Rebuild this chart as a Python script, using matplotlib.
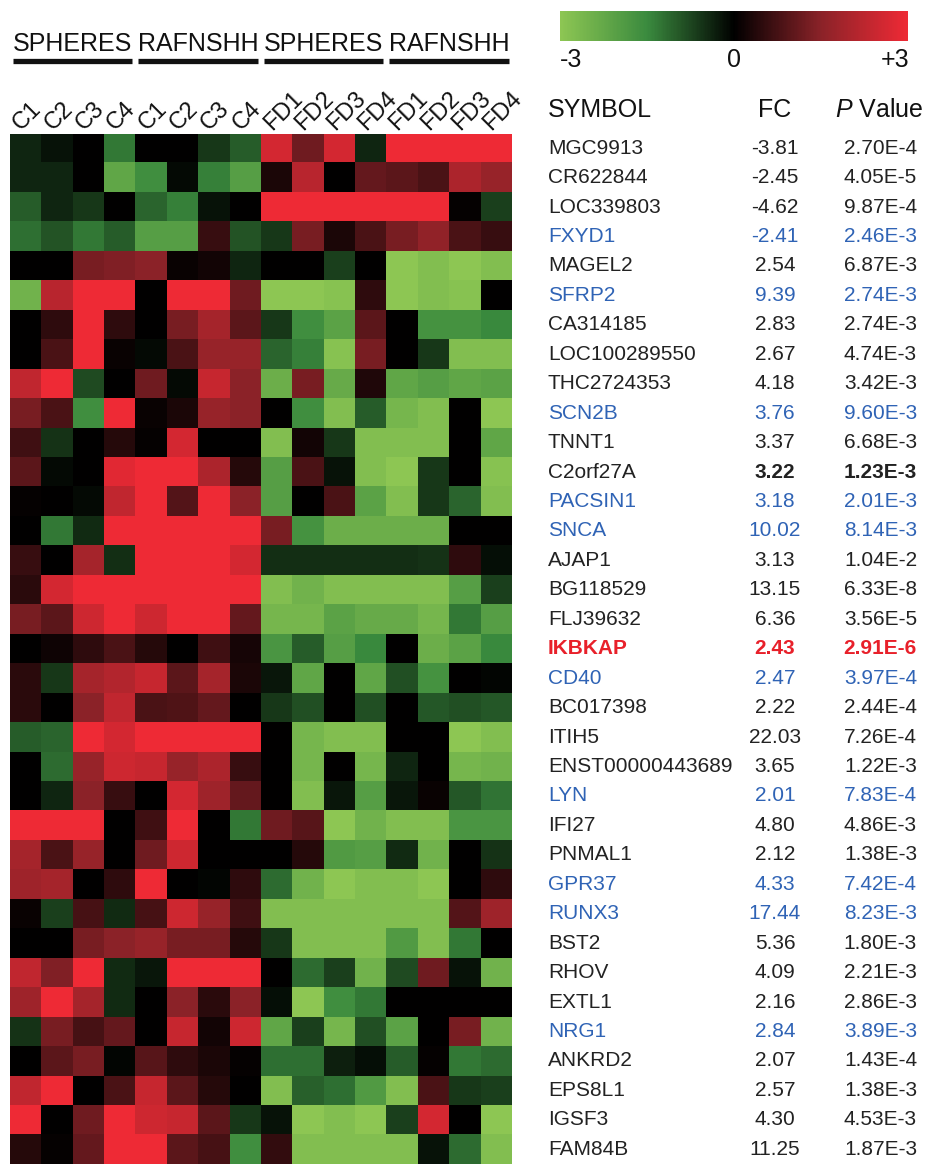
import numpy as np
import matplotlib
matplotlib.use("Agg")
import matplotlib.pyplot as plt
from matplotlib.colors import LinearSegmentedColormap

plt.rcParams["font.family"] = ["Liberation Sans", "DejaVu Sans"]
plt.rcParams["mathtext.fontset"] = "custom"
plt.rcParams["mathtext.rm"] = "Liberation Sans"
plt.rcParams["mathtext.it"] = "Liberation Sans:italic"

# sample groups and per-column labels
groups = ["SPHERES", "RAFNSHH", "SPHERES", "RAFNSHH"]
columns = ["C1", "C2", "C3", "C4", "C1", "C2", "C3", "C4",
           "FD1", "FD2", "FD3", "FD4", "FD1", "FD2", "FD3", "FD4"]

genes = ["MGC9913", "CR622844", "LOC339803", "FXYD1", "MAGEL2", "SFRP2",
         "CA314185", "LOC100289550", "THC2724353", "SCN2B", "TNNT1",
         "C2orf27A", "PACSIN1", "SNCA", "AJAP1", "BG118529", "FLJ39632",
         "IKBKAP", "CD40", "BC017398", "ITIH5", "ENST00000443689", "LYN",
         "IFI27", "PNMAL1", "GPR37", "RUNX3", "BST2", "RHOV", "EXTL1",
         "NRG1", "ANKRD2", "EPS8L1", "IGSF3", "FAM84B"]

fold_change = ["-3.81", "-2.45", "-4.62", "-2.41", "2.54", "9.39", "2.83",
               "2.67", "4.18", "3.76", "3.37", "3.22", "3.18", "10.02",
               "3.13", "13.15", "6.36", "2.43", "2.47", "2.22", "22.03",
               "3.65", "2.01", "4.80", "2.12", "4.33", "17.44", "5.36",
               "4.09", "2.16", "2.84", "2.07", "2.57", "4.30", "11.25"]

p_values = ["2.70E-4", "4.05E-5", "9.87E-4", "2.46E-3", "6.87E-3", "2.74E-3",
            "2.74E-3", "4.74E-3", "3.42E-3", "9.60E-3", "6.68E-3", "1.23E-3",
            "2.01E-3", "8.14E-3", "1.04E-2", "6.33E-8", "3.56E-5", "2.91E-6",
            "3.97E-4", "2.44E-4", "7.26E-4", "1.22E-3", "7.83E-4", "4.86E-3",
            "1.38E-3", "7.42E-4", "8.23E-3", "1.80E-3", "2.21E-3", "2.86E-3",
            "3.89E-3", "1.43E-4", "1.38E-3", "4.53E-3", "1.87E-3"]

highlight_blue = ["FXYD1", "SFRP2", "SCN2B", "PACSIN1", "SNCA", "CD40",
                  "LYN", "GPR37", "RUNX3", "NRG1"]
highlight_red = ["IKBKAP"]

# row-scaled expression, one row per gene
expression = np.array([
    [-0.4, -0.2, 0, -1.3, 0, 0, -0.6, -1.0, 2.6, 1.2, 2.6, -0.4, 3, 3, 3, 3],
    [-0.4, -0.4, 0, -2.2, -1.6, -0.1, -1.4, -2.0, 0.3, 2.2, 0, 1.1, 1.0, 0.8, 2.0, 1.7],
    [-1.0, -0.4, -0.6, 0, -1.1, -1.4, -0.2, 0, 3, 3, 3, 3, 3, 3, 0.05, -0.7],
    [-1.2, -0.9, -1.3, -1.0, -2.0, -2.0, 0.6, -0.9, -0.6, 1.3, 0.3, 0.8, 1.3, 1.6, 0.8, 0.6],
    [0, 0, 1.3, 1.4, 1.5, 0.1, 0.2, -0.4, 0, 0, -0.7, 0, -3, -2.8, -3, -2.8],
    [-2.5, 2.2, 3, 3, 0, 3, 3, 1.2, -3, -3, -2.9, 0.5, -3, -2.8, -2.9, 0],
    [0, 0.5, 3, 0.5, 0, 1.3, 1.9, 1.0, -0.6, -1.6, -2.1, 1.0, 0, -1.7, -1.7, -1.5],
    [0, 0.8, 3, 0.1, -0.1, 0.8, 1.7, 1.7, -1.1, -1.4, -2.9, 1.3, 0, -0.6, -2.8, -2.8],
    [2.3, 3, -0.8, 0, 1.2, -0.1, 2.4, 1.5, -2.4, 1.3, -2.3, 0.35, -2.2, -2.0, -2.2, -2.1],
    [1.3, 0.8, -1.6, 3, 0.1, 0.3, 1.7, 1.5, 0, -1.6, -2.8, -1.0, -2.6, -2.8, 0, -3],
    [0.7, -0.55, 0, 0.4, 0.05, 2.6, 0, 0, -2.8, 0.2, -0.6, -2.8, -2.8, -2.8, 0, -2.2],
    [1.0, -0.1, 0, 2.8, 3, 3, 2.0, 0.4, -2.0, 0.8, -0.2, -2.8, -3, -0.6, 0, -2.9],
    [0.05, 0, -0.1, 2.3, 3, 0.9, 3, 1.5, -2.0, 0, 0.8, -2.1, -2.8, -0.6, -1.1, -2.8],
    [0, -1.3, -0.45, 3, 3, 3, 3, 3, 1.3, -1.7, -2.4, -2.4, -2.4, -2.4, 0, 0],
    [0.6, 0, 1.9, -0.5, 3, 3, 3, 2.6, -0.5, -0.5, -0.5, -0.5, -0.5, -0.55, 0.5, -0.15],
    [0.45, 2.6, 3, 3, 3, 3, 3, 3, -2.8, -2.5, -2.8, -2.8, -2.8, -2.8, -2.0, -0.7],
    [1.3, 1.0, 2.5, 3, 2.5, 3, 3, 1.1, -2.6, -2.6, -2.1, -2.3, -2.3, -2.6, -1.3, -2.0],
    [0, 0.15, 0.5, 0.8, 0.4, 0, 0.7, 0.25, -1.8, -1.0, -2.0, -1.5, 0, -2.4, -2.1, -1.5],
    [0.45, -0.6, 1.9, 2.1, 2.4, 1.0, 1.9, 0.3, -0.25, -2.2, 0, -2.2, -0.85, -1.7, 0, -0.05],
    [0.45, 0, 1.5, 2.3, 0.8, 0.85, 1.1, 0, -0.6, -0.85, 0, -0.85, 0, -0.95, -0.85, -0.95],
    [-1.0, -1.1, 3, 2.6, 3, 3, 3, 3, 0, -2.6, -2.8, -2.8, 0, 0, -3, -2.8],
    [0, -1.15, 1.7, 2.5, 2.4, 1.7, 2.0, 0.6, 0, -2.6, 0, -2.6, -0.4, 0, -2.6, -2.5],
    [0, -0.4, 1.5, 0.6, 0, 2.6, 1.8, 1.1, 0, -2.8, -0.25, -2.0, -0.25, 0.1, -0.95, -1.25],
    [3, 3, 3, 0, 0.7, 3, 0, -1.3, 1.2, 0.95, -3, -2.5, -2.8, -2.8, -1.8, -1.8],
    [1.9, 0.8, 1.7, 0, 1.2, 2.5, 0, 0, 0, 0.4, -1.9, -2.0, -0.45, -2.5, 0, -0.55],
    [1.8, 1.9, 0, 0.5, 3, 0, -0.05, 0.5, -1.15, -2.5, -3, -2.8, -2.8, -3, 0, 0.5],
    [0.1, -0.7, 0.75, -0.45, 0.75, 2.5, 1.7, 0.7, -2.8, -2.8, -2.8, -2.8, -2.8, -2.8, 0.9, 1.8],
    [0, 0, 1.3, 1.5, 1.7, 1.3, 1.3, 0.4, -0.6, -2.8, -2.8, -2.8, -1.9, -2.8, -1.3, 0],
    [2.3, 1.4, 3, -0.45, -0.25, 3, 3, 3, 0, -1.15, -0.7, -2.5, -0.8, 1.2, -0.2, -2.5],
    [1.8, 3, 1.9, -0.45, 0, 1.5, 0.45, 1.5, -0.15, -3, -1.6, -1.3, 0, 0, 0, 0],
    [-0.55, 1.3, 0.75, 1.1, 0, 2.4, 0.2, 2.5, -2.2, -0.7, -2.6, -0.85, -2.1, 0, 1.3, -2.5],
    [0, 1.0, 1.3, -0.05, 0.95, 0.5, 0.3, 0.05, -1.2, -1.2, -0.35, -0.15, -1.0, 0.05, -1.3, -1.15],
    [2.3, 3, 0, 0.8, 2.4, 1.0, 0.4, 0, -2.8, -1.05, -1.2, -1.9, -2.8, 0.8, -0.6, -0.7],
    [3, 0, 1.2, 3, 2.5, 2.4, 1.0, -0.6, -0.2, -3, -2.8, -3, -0.7, 2.6, 0, -3],
    [0.4, 0.05, 1.1, 3, 3, 1.0, 0.75, -1.6, 0.55, -2.8, -2.8, -2.8, -2.8, -0.2, -1.15, -2.8],
])

W, H = 925, 1164
cmap = LinearSegmentedColormap.from_list(
    "green_black_red",
    [(0.0, "#8dc653"), (0.25, "#3a8a3e"), (0.5, "#000000"),
     (0.75, "#8a2228"), (1.0, "#ee2a35")])


def fx(px):
    return px / W


def fy(py):
    return 1 - py / H


fig = plt.figure(figsize=(W / 100, H / 100), dpi=100)

# heatmap block
hm_left, hm_right, hm_top, hm_bottom = 10, 512, 133.5, 1164
ax = fig.add_axes([fx(hm_left), fy(hm_bottom), fx(hm_right - hm_left),
                   (hm_bottom - hm_top) / H])
im = ax.imshow(expression, cmap=cmap, vmin=-3, vmax=3, aspect="auto",
               interpolation="nearest")
ax.set_axis_off()

n_rows, n_cols = expression.shape
col_w = (hm_right - hm_left) / n_cols
row_h = (hm_bottom - hm_top) / n_rows

# rotated column labels sitting on top of the heatmap
for j, lab in enumerate(columns):
    x = hm_left + j * col_w + 11
    fig.text(fx(x), fy(131), lab, rotation=45, rotation_mode="anchor",
             ha="left", va="baseline", fontsize=17, color="#111111")

# group titles with thick underlines
for g, name in enumerate(groups):
    x0 = hm_left + g * 4 * col_w
    x1 = x0 + 4 * col_w
    fig.text(fx((x0 + x1) / 2), fy(44), name, ha="center", va="center",
             fontsize=18, color="#111111")
    fig.add_artist(plt.Line2D([fx(x0 + 2.5), fx(x1 - 3.5)], [fy(60.5), fy(60.5)],
                              color="#111111", linewidth=3.8,
                              solid_capstyle="butt"))

# colour key
cax = fig.add_axes([fx(560), fy(41), fx(348), 30 / H])
cb = fig.colorbar(im, cax=cax, orientation="horizontal")
cb.set_ticks([])
cb.outline.set_visible(False)
fig.text(fx(560), fy(60), "-3", ha="left", va="center", fontsize=18, color="#111111")
fig.text(fx(734), fy(60), "0", ha="center", va="center", fontsize=18, color="#111111")
fig.text(fx(909), fy(60), "+3", ha="right", va="center", fontsize=18, color="#111111")

# gene table
sym_x, fc_x, p_x = 548, 775, 917
fig.text(fx(sym_x), fy(110), "SYMBOL", ha="left", va="center", fontsize=18, color="#111111")
fig.text(fx(fc_x), fy(110), "FC", ha="center", va="center", fontsize=18, color="#111111")
fig.text(fx(923), fy(110), r"$P$ Value", ha="right", va="center", fontsize=18,
         color="#111111")

for i, gene in enumerate(genes):
    y = fy(hm_top + (i + 0.5) * row_h)
    color, weight, num_weight = "#222222", "normal", "normal"
    if gene in highlight_blue:
        color = "#2f63b5"
    if gene in highlight_red:
        color, weight, num_weight = "#e8202a", "bold", "bold"
    if gene == "C2orf27A":
        num_weight = "bold"
    fig.text(fx(sym_x), y, gene, ha="left", va="center", fontsize=15,
             color=color, fontweight=weight)
    fig.text(fx(fc_x), y, fold_change[i], ha="center", va="center",
             fontsize=15, color=color, fontweight=num_weight)
    fig.text(fx(p_x), y, p_values[i], ha="right", va="center",
             fontsize=15, color=color, fontweight=num_weight)

fig.savefig("out.png", dpi=100, facecolor="white")
